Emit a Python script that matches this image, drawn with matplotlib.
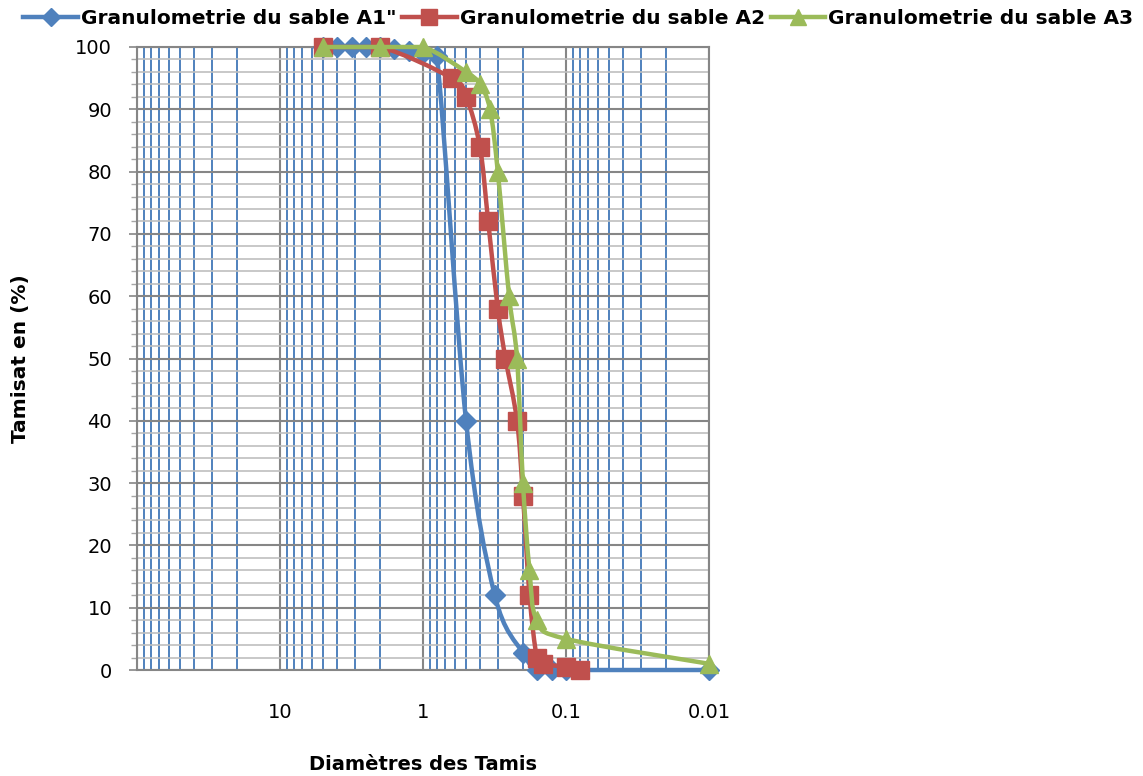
import numpy as np
import matplotlib
matplotlib.use("Agg")
import matplotlib.pyplot as plt
from matplotlib.path import Path
from matplotlib.patches import PathPatch
from matplotlib.lines import Line2D
from matplotlib.ticker import FixedLocator, LogLocator, MultipleLocator, NullFormatter

plt.rcParams['font.family'] = ['DejaVu Sans']

# sieve diameters (mm) and passing (%)
a1_d = [5, 4, 3.15, 2.5, 2, 1.6, 1.25, 1, 0.8, 0.5, 0.315, 0.2, 0.16, 0.125, 0.1, 0.01]
a1_p = [100, 100, 100, 100, 100, 99.6, 99.4, 99, 98.5, 40, 12, 2.7, 0, 0, 0, 0]

a2_d = [5, 2, 0.63, 0.5, 0.4, 0.35, 0.3, 0.265, 0.22, 0.2, 0.18, 0.16, 0.145, 0.1, 0.08]
a2_p = [100, 100, 95, 92, 84, 72, 58, 50, 40, 28, 12, 2, 1, 0.5, 0]

a3_d = [5, 2, 1, 0.5, 0.4, 0.34, 0.3, 0.25, 0.22, 0.2, 0.18, 0.16, 0.1, 0.01]
a3_p = [100, 100, 100, 96, 94, 90, 80, 60, 50, 30, 16, 8, 5, 1]

labels = ['Granulometrie du sable A1"', 'Granulometrie du sable A2', 'Granulometrie du sable A3']
colors = ['#4F81BD', '#C0504D', '#9BBB59']
markers = ['D', 's', '^']
msizes = [10, 13, 13]


def smooth_path(xs, ys):
    # excel-like smoothed line (catmull-rom in log-x space), tangents shortened
    # when they would overshoot the segment in y
    pts = np.column_stack([np.log10(xs), np.asarray(ys, dtype=float)])
    n = len(pts)
    verts = [pts[0]]
    codes = [Path.MOVETO]
    for i in range(n - 1):
        p0 = pts[max(i - 1, 0)]
        p1 = pts[i]
        p2 = pts[i + 1]
        p3 = pts[min(i + 2, n - 1)]
        t1 = (p2 - p0) / 6
        t2 = (p3 - p1) / 6
        lo, hi = min(p1[1], p2[1]), max(p1[1], p2[1])
        c1 = p1 + t1
        if t1[1] != 0 and not lo <= c1[1] <= hi:
            bound = hi if c1[1] > hi else lo
            c1 = p1 + t1 * abs((bound - p1[1]) / t1[1])
        c2 = p2 - t2
        if t2[1] != 0 and not lo <= c2[1] <= hi:
            bound = hi if c2[1] > hi else lo
            c2 = p2 - t2 * abs((bound - p2[1]) / t2[1])
        verts += [c1, c2, p2]
        codes += [Path.CURVE4] * 3
    v = np.array(verts)
    v[:, 0] = 10 ** v[:, 0]
    return Path(v, codes)


fig = plt.figure(figsize=(11.43, 7.76), dpi=100)
ax = fig.add_axes([137 / 1143, 106 / 776, 572 / 1143, 623 / 776])
ax.set_xscale('log')
ax.set_xlim(100, 0.01)
ax.set_ylim(0, 100)

series = [(a1_d, a1_p), (a2_d, a2_p), (a3_d, a3_p)]
handles = []
for k, (d, p) in enumerate(series):
    patch = PathPatch(smooth_path(d, p), facecolor='none', edgecolor=colors[k],
                      lw=3.2, clip_on=False, zorder=3 + k)
    ax.add_patch(patch)
    ax.plot(d, p, linestyle='none', marker=markers[k], ms=msizes[k],
            color=colors[k], mec=colors[k], clip_on=False, zorder=3 + k)
    handles.append(Line2D([], [], color=colors[k], lw=3.2, marker=markers[k],
                          ms=msizes[k] - 1))

# x axis
ax.xaxis.set_major_locator(FixedLocator([100, 10, 1, 0.1, 0.01]))
ax.set_xticklabels(['', '10', '1', '0.1', '0.01'])
ax.xaxis.set_minor_locator(LogLocator(base=10, subs=np.arange(2, 10)))
ax.xaxis.set_minor_formatter(NullFormatter())
ax.tick_params(axis='x', which='both', length=0, pad=24, labelsize=14)

# y axis
ax.yaxis.set_major_locator(MultipleLocator(10))
ax.yaxis.set_minor_locator(MultipleLocator(2))
ax.tick_params(axis='y', which='major', length=6, width=1.2, color='#868686',
               labelsize=14, pad=12)
ax.tick_params(axis='y', which='minor', length=4, width=1, color='#A6A6A6')

ax.grid(which='major', axis='x', color='#868686', lw=1.5)
ax.grid(which='minor', axis='x', color='#4F81BD', lw=1.4)
ax.grid(which='major', axis='y', color='#868686', lw=1.5)
ax.grid(which='minor', axis='y', color='#BFBFBF', lw=1.2)
ax.set_axisbelow(True)
for s in ax.spines.values():
    s.set_color('#868686')
    s.set_linewidth(1.5)

ax.set_xlabel('Diamètres des Tamis', fontsize=14, fontweight='bold')
ax.set_ylabel('Tamisat en (%)', fontsize=14.5, fontweight='bold')
ax.xaxis.set_label_coords(0.5, -0.136)
ax.yaxis.set_label_coords(-0.187, 0.5)

fig.legend(handles, labels, loc='upper center', bbox_to_anchor=(0.506, 1.012), ncol=3,
           frameon=False, prop={'size': 14.5, 'weight': 'bold'}, handlelength=2.7,
           handletextpad=0.15, columnspacing=0.3)

fig.savefig('out.png', dpi=100)
